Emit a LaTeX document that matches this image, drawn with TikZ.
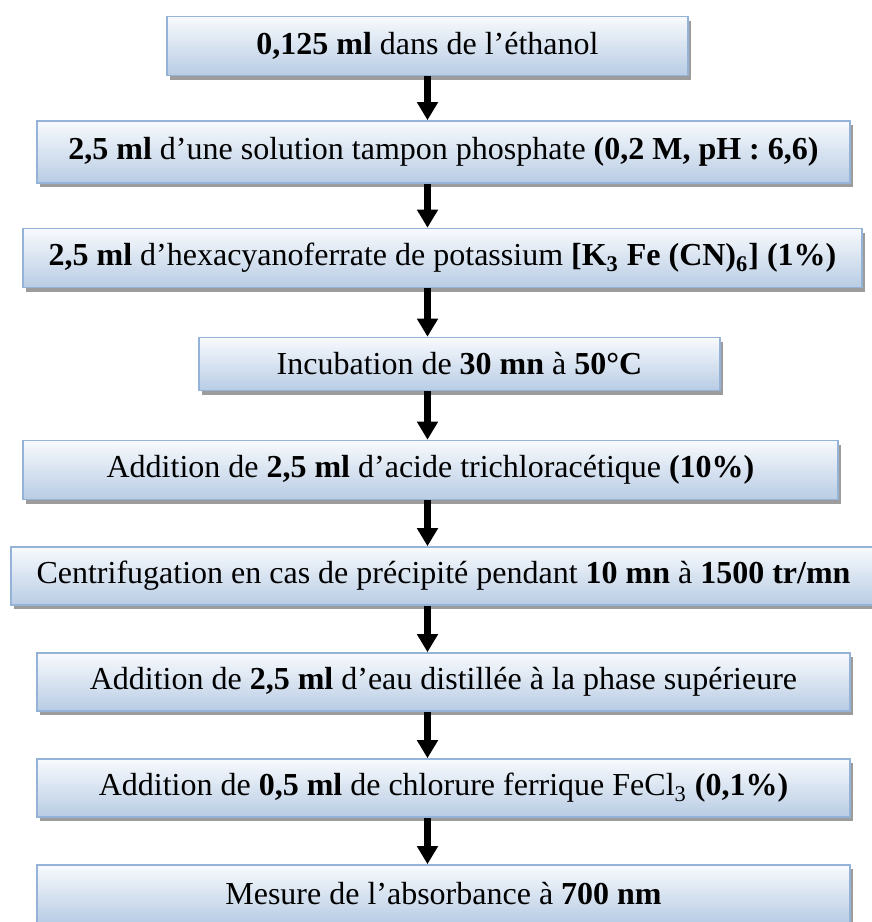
\documentclass[tikz,border=0pt]{standalone}
\usepackage{fontspec}
\setmainfont{Liberation Serif}
\usetikzlibrary{arrows.meta,shadows}
\definecolor{boxline}{HTML}{95B3D7}
\definecolor{boxtop}{HTML}{F8FAFD}
\definecolor{boxbot}{HTML}{B8CCE4}
\definecolor{shade}{HTML}{9C9C9C}
\tikzset{
  stepbox/.style={draw=boxline, line width=0.8pt, top color=boxtop, bottom color=boxbot,
    minimum height=29.5pt, inner sep=0pt, font=\fontsize{16}{19}\selectfont,
    drop shadow={shadow xshift=1.5pt, shadow yshift=-2pt, fill=shade, opacity=1}},
  flow/.style={line width=3.5pt, -{Triangle[width=10pt,length=9pt]}}
}
\begin{document}
\begin{tikzpicture}[node distance=53pt]
  \useasboundingbox (0,0) rectangle (436pt,-461pt);
  \node (ethanol) [stepbox, minimum width=260.5pt] at (213.75pt,-23pt) {\textbf{0,125 ml} dans de l’éthanol};
  \node (tampon) [stepbox, below of=ethanol, xshift=8pt, minimum width=406.5pt, minimum height=31pt]
    {\textbf{2,5 ml} d’une solution tampon phosphate \textbf{(0,2 M, pH : 6,6)}};
  \node (ferri) [stepbox, below of=tampon, xshift=-0.5pt, minimum width=419.5pt]
    {\textbf{2,5 ml} d’hexacyanoferrate de potassium \textbf{[K\textsubscript{3} Fe (CN)\textsubscript{6}] (1\%)}};
  \node (incub) [stepbox, below of=ferri, xshift=8.5pt, minimum width=260.5pt, minimum height=26.5pt]
    {Incubation de \textbf{30 mn} à \textbf{50°C}};
  \node (tca) [stepbox, below of=incub, xshift=-14.5pt, minimum width=407.5pt]
    {Addition de \textbf{2,5 ml} d’acide trichloracétique \textbf{(10\%)}};
  \node (centri) [stepbox, below of=tca, xshift=6.5pt, minimum width=432.5pt, minimum height=29pt]
    {Centrifugation en cas de précipité pendant \textbf{10 mn} à \textbf{1500 tr/mn}};
  \node (eau) [stepbox, below of=centri, minimum width=406.5pt, minimum height=29pt]
    {Addition de \textbf{2,5 ml} d’eau distillée à la phase supérieure};
  \node (fecl) [stepbox, below of=eau, minimum width=406.5pt, minimum height=29pt]
    {Addition de \textbf{0,5 ml} de chlorure ferrique FeCl\textsubscript{3} \textbf{(0,1\%)}};
  \node (mesure) [stepbox, below of=fecl, minimum width=406.5pt, minimum height=29pt]
    {Mesure de l’absorbance à \textbf{700 nm}};
  \draw[flow] (ethanol.south) -- (ethanol.south |- tampon.north);
  \draw[flow] (tampon.south -| ethanol) -- (ferri.north -| ethanol);
  \draw[flow] (ferri.south -| ethanol) -- (incub.north -| ethanol);
  \draw[flow] (incub.south -| ethanol) -- (tca.north -| ethanol);
  \draw[flow] (tca.south -| ethanol) -- (centri.north -| ethanol);
  \draw[flow] (centri.south -| ethanol) -- (eau.north -| ethanol);
  \draw[flow] (eau.south -| ethanol) -- (fecl.north -| ethanol);
  \draw[flow] (fecl.south -| ethanol) -- (mesure.north -| ethanol);
\end{tikzpicture}
\end{document}
